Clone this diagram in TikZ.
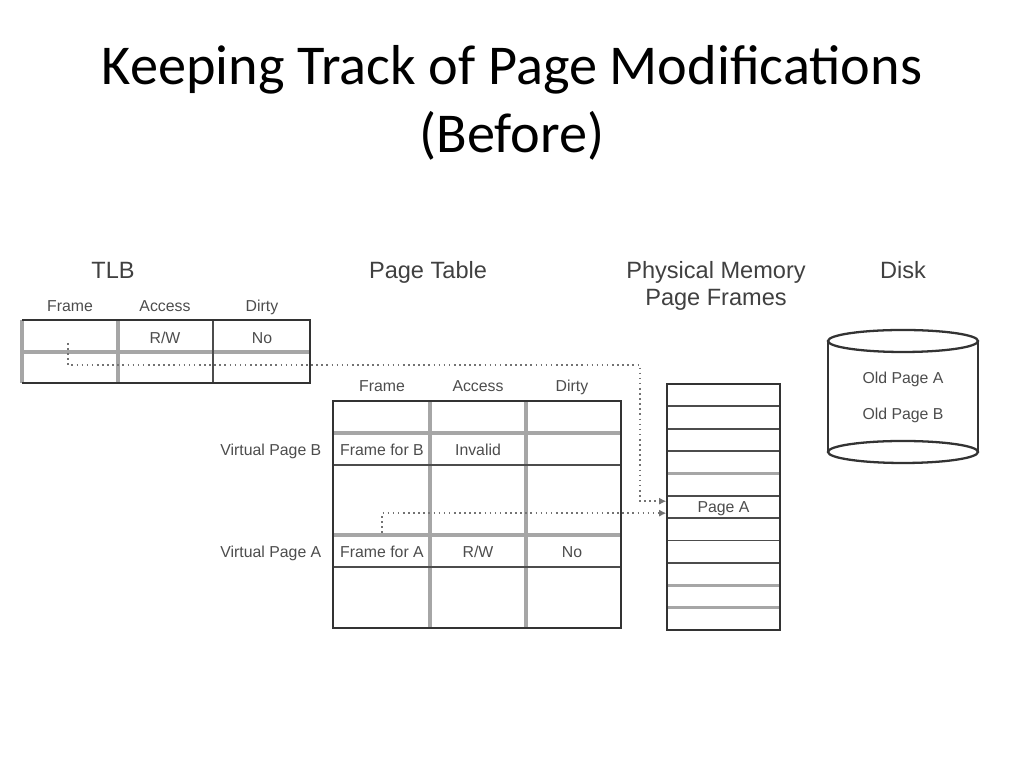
\documentclass[tikz,border=0pt]{standalone}
\usepackage{fontspec}
\setmainfont{Carlito}
\newfontfamily\diagfont{Liberation Sans}
\usetikzlibrary{arrows.meta}

\tikzset{
  head/.style={font=\diagfont\fontsize{6.7}{8}\selectfont, text=black!75, inner sep=0pt,
    text height=4.8pt, text depth=0pt},
  lbl/.style={font=\diagfont\fontsize{4.5}{5.5}\selectfont, text=black!70, inner sep=0pt,
    text height=3.25pt, text depth=0pt},
  outer/.style={draw=black!80, line width=0.65pt},
  lite/.style={draw=black!35, line width=0.9pt},
  dark/.style={draw=black!70, line width=0.5pt},
  ptr/.style={draw=black!55, densely dotted, line width=0.45pt, -{Latex[length=2pt,width=2pt]}},
}

\begin{document}
\begin{tikzpicture}[x=0.01cm, y=-0.01cm]
	\useasboundingbox (0,0) rectangle (1024,768);
	% title
	\node[align=center, font=\fontsize{16}{19.3}\selectfont] (title) at (512,103)
		{Keeping Track of Page Modifications\\(Before)};
	% column headings
	\node[head] (tlbhd) at (113,270) {TLB};
	\node[head] (pthd) at (428,270) {Page Table};
	\node[head] (memhd) at (716,270) {Physical Memory};
	\node[head] (memhd2) at (716,297) {Page Frames};
	\node[head] (diskhd) at (903,270) {Disk};

	% TLB
	\draw[lite] (22,352) -- (310,352);
	\draw[lite] (118,320) -- (118,383);
	\draw[lite] (22,320) -- (22,383);
	\draw[dark] (213,320) -- (213,383);
	\draw[outer] (22,320) -- (310,320) -- (310,383) -- (22,383);
	\node[lbl] (tlbframe) at (70,306) {Frame};
	\node[lbl] (tlbaccess) at (165,306) {Access};
	\node[lbl] (tlbdirty) at (262,306) {Dirty};
	\node[lbl] (tlbrw) at (165,338) {R/W};
	\node[lbl] (tlbno) at (262,338) {No};
	\coordinate (tlbptr) at (68,343);
	\coordinate (tlbturn) at (640,365);

	% page table
	\draw[lite] (430,401) -- (430,628);
	\draw[lite] (526,401) -- (526,628);
	\draw[lite] (333,433) -- (621,433);
	\draw[lite] (333,535) -- (621,535);
	\draw[dark] (333,465) -- (621,465);
	\draw[dark] (333,567) -- (621,567);
	\draw[outer] (333,401) rectangle (621,628);
	\node[lbl] (ptframe) at (382,386) {Frame};
	\node[lbl] (ptaccess) at (478,386) {Access};
	\node[lbl] (ptdirty) at (572,386) {Dirty};
	\node[lbl, anchor=east] (vpb) at (322,450) {Virtual Page B};
	\node[lbl, anchor=east] (vpa) at (322,552) {Virtual Page A};
	\node[lbl] (frameb) at (382,450) {Frame for B};
	\node[lbl] (invalid) at (478,450) {Invalid};
	\node[lbl] (framea) at (382,552) {Frame for A};
	\node[lbl] (ptrw) at (478,552) {R/W};
	\node[lbl] (ptno) at (572,552) {No};
	\coordinate (ptptr) at (382,533);

	% physical memory
	\foreach \i in {1,2,3,5,6,7,8}
		\draw[dark] (667,384+22.36*\i) -- (780,384+22.36*\i);
	\foreach \i in {4,9,10}
		\draw[lite] (667,384+22.36*\i) -- (780,384+22.36*\i);
	\draw[outer] (667,384) rectangle (780,630);
	\node[lbl, minimum width=1.13cm, minimum height=0.22cm] (pagea) at (723.5,507.2) {Page A};

	% disk
	\coordinate (disk) at (903,397);
	\draw[outer] (828,341) -- (828,452);
	\draw[outer] (978,341) -- (978,452);
	\draw[outer, fill=white] (903,341) ellipse (75 and 11);
	\draw[outer] (903,452) ellipse (75 and 11);
	\node[lbl] (olda) at (903,378) {Old Page A};
	\node[lbl] (oldb) at (903,414) {Old Page B};

	% pointers
	\draw[ptr] (tlbptr) |- (tlbturn) |- ([yshift=1.7pt]pagea.west);
	\draw[ptr] (ptptr) |- ([yshift=-1.7pt]pagea.west);
\end{tikzpicture}
\end{document}
